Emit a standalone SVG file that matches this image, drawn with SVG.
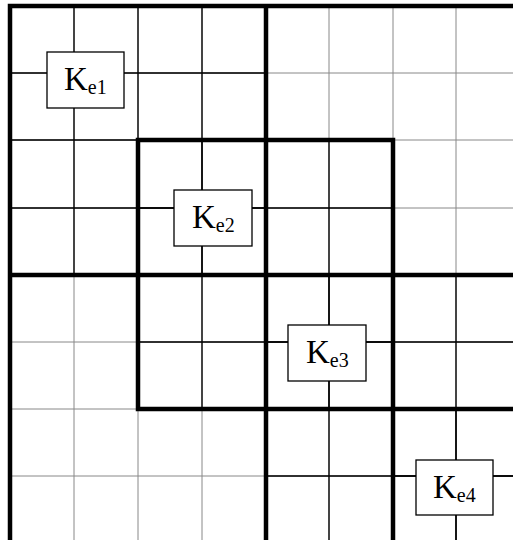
<svg xmlns="http://www.w3.org/2000/svg" width="513" height="540" viewBox="0 0 513 540">
<style>
.gray{stroke:#888;stroke-width:1;fill:none}
.thin{stroke:#000;stroke-width:1.3;fill:none}
.thick{stroke:#000;stroke-width:4.5;fill:none;stroke-linecap:square}
.box{fill:#fff;stroke:#000;stroke-width:1.3}
.k{font-family:"Liberation Serif","Times New Roman",serif;font-size:33px;fill:#000}
.sub{font-size:20px}
</style>
<rect width="513" height="540" fill="#fff"/>
<g id="background-grid">
<path class="gray" d="M74 6V540M138 6V540M202 6V540M266 6V540M329 6V540M393 6V540M456 6V540M10 73H513M10 140H513M10 208H513M10 275H513M10 342H513M10 409H513M10 476H513"/>
</g>
<g id="element-grids">
<path id="grid-e1" class="thin" d="M74 6V275M138 6V275M202 6V275M10 73H266M10 140H266M10 208H266"/>
<path id="grid-e2" class="thin" d="M202 140V409M266 140V409M329 140V409M138 208H393M138 275H393M138 342H393"/>
<path id="grid-e3" class="thin" d="M329 275V540M393 275V540M456 275V540M266 342H513M266 409H513M266 476H513"/>
<path id="grid-e4" class="thin" d="M456 409V540M393 476H513"/>
</g>
<g id="borders">
<path class="thick" d="M10 6V540M10 6H513M266 6V540M10 275H513M138 140H393M138 140V409M393 140V540M138 409H513"/>
</g>
<g id="Ke1">
<rect class="box" x="47" y="52" width="77" height="56"/>
<text class="k" x="64" y="90">K<tspan class="sub" dy="4">e1</tspan></text>
</g>
<g id="Ke2">
<rect class="box" x="174" y="190" width="78" height="56"/>
<text class="k" x="192" y="228">K<tspan class="sub" dy="4">e2</tspan></text>
</g>
<g id="Ke3">
<rect class="box" x="288" y="325" width="78" height="56"/>
<text class="k" x="306" y="363">K<tspan class="sub" dy="4">e3</tspan></text>
</g>
<g id="Ke4">
<rect class="box" x="416" y="460" width="77" height="55"/>
<text class="k" x="433" y="498">K<tspan class="sub" dy="4">e4</tspan></text>
</g>
</svg>
